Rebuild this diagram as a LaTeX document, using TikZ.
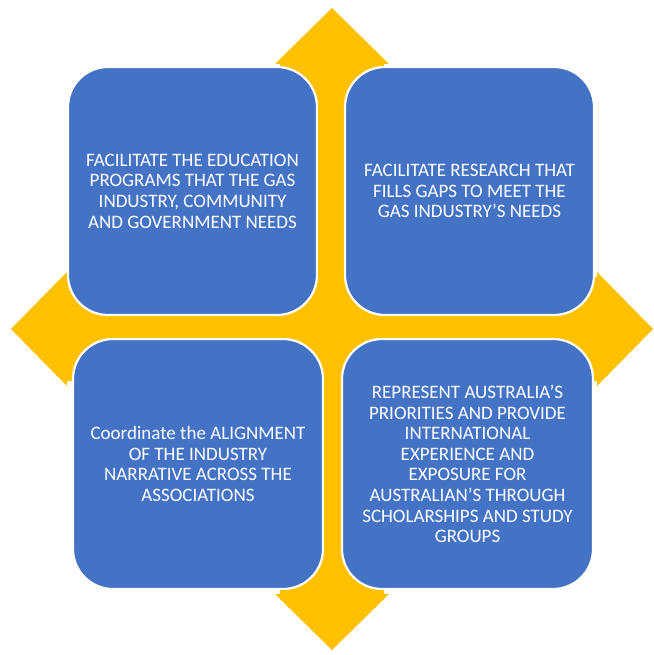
\documentclass[tikz,border=0pt]{standalone}
\usepackage{fontspec}
\setmainfont{Carlito}
\definecolor{gold}{HTML}{FFC000}
\definecolor{boxblue}{HTML}{4472C4}
\begin{document}
\begin{tikzpicture}[x=1pt,y=-1pt,
  card/.style={draw=white, line width=2.2pt, fill=boxblue, rounded corners=40pt,
    inner sep=0pt, text=white, align=center,
    font=\fontsize{19}{20.6}\selectfont},
  quad/.style={fill=gold, draw=none}]
\useasboundingbox (0,0) rectangle (653,655);
% quad arrow background
\def\cx{332}\def\cy{329}\def\L{321}\def\B{265}\def\h{57}\def\s{52}
\fill[gold] (\cx,\cy-\L) -- (\cx+\h,\cy-\B) -- (\cx+\s,\cy-\B) -- (\cx+\s,\cy-\s)
  -- (\cx+\B,\cy-\s) -- (\cx+\B,\cy-\h) -- (\cx+\L,\cy) -- (\cx+\B,\cy+\h)
  -- (\cx+\B,\cy+\s) -- (\cx+\s,\cy+\s) -- (\cx+\s,\cy+\B) -- (\cx+\h,\cy+\B)
  -- (\cx,\cy+\L) -- (\cx-\h,\cy+\B) -- (\cx-\s,\cy+\B) -- (\cx-\s,\cy+\s)
  -- (\cx-\B,\cy+\s) -- (\cx-\B,\cy+\h) -- (\cx-\L,\cy) -- (\cx-\B,\cy-\h)
  -- (\cx-\B,\cy-\s) -- (\cx-\s,\cy-\s) -- (\cx-\s,\cy-\B) -- (\cx-\h,\cy-\B) -- cycle;
% boxes
\node[card, minimum width=249pt, minimum height=248pt] (tl) at (192.5,191)
  {FACILITATE THE EDUCATION\\PROGRAMS THAT THE GAS\\INDUSTRY, COMMUNITY\\AND GOVERNMENT NEEDS};
\node[card, minimum width=249pt, minimum height=248pt] (tr) at (469.5,191)
  {FACILITATE RESEARCH THAT\\FILLS GAPS TO MEET THE\\GAS INDUSTRY’S NEEDS};
\node[card, minimum width=250pt, minimum height=250pt] (bl) at (198,464)
  {Coordinate the ALIGNMENT\\OF THE INDUSTRY\\NARRATIVE ACROSS THE\\ASSOCIATIONS};
\node[card, minimum width=251pt, minimum height=250pt] (br) at (467.5,464)
  {REPRESENT AUSTRALIA’S\\PRIORITIES AND PROVIDE\\INTERNATIONAL\\EXPERIENCE AND\\EXPOSURE FOR\\AUSTRALIAN’S THROUGH\\SCHOLARSHIPS AND STUDY\\GROUPS};
\end{tikzpicture}
\end{document}
